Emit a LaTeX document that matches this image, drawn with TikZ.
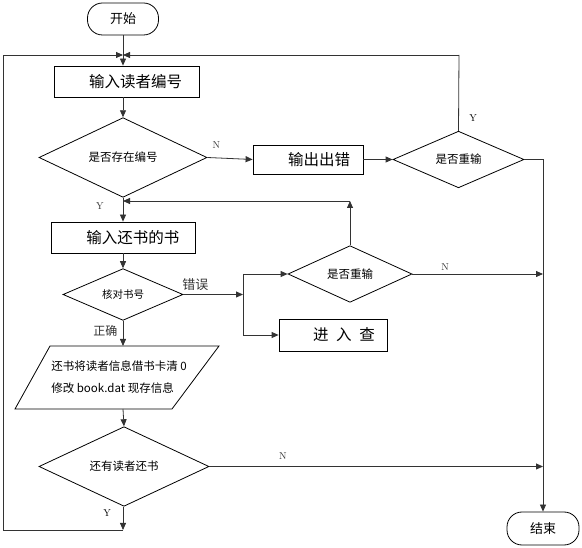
\documentclass[tikz,border=0pt]{standalone}
\usepackage{fontspec}
\newfontfamily\cjk{Noto Sans CJK SC}
\usetikzlibrary{arrows.meta,shapes.geometric}
\begin{document}
\begin{tikzpicture}[x=1pt,y=-1pt,
  every node/.style={font=\cjk},
  ln/.style={line width=0.8pt,black!80},
  arr/.style={ln,-{Triangle[length=7pt,width=6pt]}},
  term/.style={draw,line width=0.8pt,rounded corners=15pt,minimum width=71pt,minimum height=32pt,inner sep=0pt,font=\cjk\fontsize{13}{13}\selectfont},
  boxn/.style={draw,line width=0.8pt,minimum height=31pt,inner sep=0pt,font=\cjk\fontsize{15.5}{16}\selectfont},
  dia/.style={draw,diamond,line width=0.8pt,inner sep=0pt,font=\cjk\fontsize{11.5}{12}\selectfont},
  lbl/.style={font=\rmfamily\fontsize{10}{10}\selectfont,inner sep=1pt}]
\useasboundingbox (0,0) rectangle (582,548);
% nodes
\node[term] (start) at (123,19) {开始};
\node[boxn,minimum width=145pt] (b1) at (126.5,81.5) {\hspace*{18pt}输入读者编号};
\node[dia,minimum width=168pt,minimum height=59pt] (d1) at (123,157.5) {是否存在编号};
\node[boxn,minimum width=110pt,minimum height=29pt] (err) at (308,159.5) {\hspace*{22pt}输出出错};
\node[dia,minimum width=131pt,minimum height=39pt] (d2) at (458.5,159.5) {是否重输};
\node[boxn,minimum width=144pt] (b2) at (123,237.5) {\hspace*{20pt}输入还书的书};
\node[dia,minimum width=120pt,minimum height=43pt,font=\cjk\fontsize{10.5}{11}\selectfont] (d3) at (123,294.5) {核对书号};
\node[dia,minimum width=124pt,minimum height=42pt] (d4) at (350,274) {是否重输};
\node[boxn,minimum width=108pt,minimum height=32pt] (b3) at (333,335) {\hspace*{22pt}进\hspace{0.5em}入\hspace{0.5em}查};
\coordinate (pTL) at (50,346);
\coordinate (pTR) at (219,346);
\coordinate (pBR) at (172,409);
\coordinate (pBL) at (15,409);
\draw[line width=0.8pt] (pTL) -- (pTR) -- (pBR) -- (pBL) -- cycle;
\coordinate (pT) at (123,346);
\coordinate (pB) at (123,409);
\node[align=left,font=\cjk\fontsize{11.5}{22}\selectfont] (para) at (119,377.5) {还书将读者信息借书卡清 0\\修改 book.dat 现存信息};
\node[dia,minimum width=170pt,minimum height=53pt] (d5) at (124,466.5) {还有读者还书};
\node[term,minimum width=72pt,minimum height=33pt] (end) at (543,528.5) {结束};
% junction coordinates
\coordinate (j1) at (123,55);
\coordinate (cTL) at (3,55);
\coordinate (cBL) at (3,530);
\coordinate (cB) at (123,530);
\coordinate (cTR) at (459,55);
\coordinate (rR) at (543,159.5);
\coordinate (s1) at (243,294.5);
\coordinate (s1t) at (243,274);
\coordinate (s1b) at (243,335);
\coordinate (u1) at (350,201);
\coordinate (u2) at (123,201);
\coordinate (rN1) at (543,274);
\coordinate (rN2) at (543,466.5);
% connectors
\draw[arr] (start.south) -- (start.south |- b1.north);
\draw[arr] (d5.south -| cB) -- (cB);
\draw[ln] (cB) -- (cBL) -- (cTL);
\draw[arr] (cTL) -- (j1);
\draw[ln] (d2.north) -- (cTR);
\draw[arr] (cTR) -- (j1);
\draw[arr] (b1.south -| d1.north) -- (d1.north);
\draw[arr] (d1.east) -- node[lbl,above,pos=0.2,yshift=8pt]{N} (err.west);
\draw[arr] (err.east) -- (d2.west);
\draw[ln] (d2.east) -- (rR);
\draw[arr] (rR) -- (end.north);
\node[lbl] (ly1) at (473,118) {Y};
\draw[arr] (d1.south) -- node[lbl,pos=0.35,left,xshift=-18pt]{Y} (b2.north);
\draw[arr] (b2.south) -- (d3.north);
\draw[arr] (d3.east) -- node[above,pos=0.2,font=\cjk\fontsize{13}{13}\selectfont]{错误} (s1);
\draw[ln] (s1t) -- (s1b);
\draw[arr] (s1t) -- (d4.west);
\draw[arr] (s1b) -- (b3.west);
\draw[arr] (d4.north) -- (u1);
\draw[arr] (u1) -- (u2);
\draw[arr] (d4.east) -- node[lbl,above,pos=0.25,yshift=2pt]{N} (rN1);
\draw[arr] (d3.south) -- node[left,pos=0.4,xshift=-2pt,font=\cjk\fontsize{12}{12}\selectfont]{正确} (pT);
\draw[arr] (pB) -- (d5.north);
\draw[arr] (d5.east) -- node[lbl,above,pos=0.22,yshift=6pt]{N} (rN2);
\node[lbl] (ly2) at (107,513) {Y};
\end{tikzpicture}
\end{document}
